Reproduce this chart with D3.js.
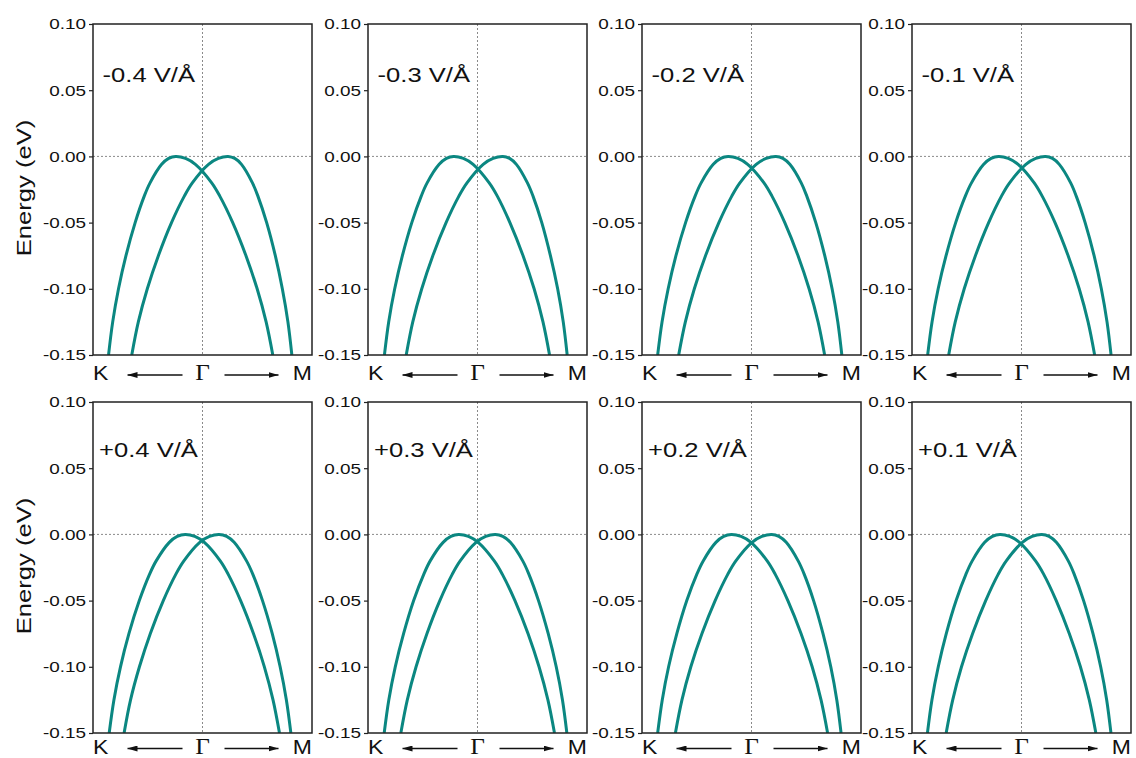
<!DOCTYPE html>
<html><head><meta charset="utf-8">
<script src="https://cdn.jsdelivr.net/npm/d3@7"></script>
<style>body{margin:0;background:#fff} svg{display:block}</style>
</head><body>
<svg id="chart" width="1136" height="758"></svg>
<script>
// ---- data ----
const fieldLabels = ["-0.4 V/Å","-0.3 V/Å","-0.2 V/Å","-0.1 V/Å","+0.4 V/Å","+0.3 V/Å","+0.2 V/Å","+0.1 V/Å"];
const energyTicks = [0.10, 0.05, 0.00, -0.05, -0.10, -0.15];
const pathLabels = ["K", "Γ", "M"];
const yLabel = "Energy (eV)";

// energy (eV) of every sample along a band, from the left end, over the maximum, to the right end
const bandEnergy = [-0.15,-0.125,-0.10,-0.075,-0.05,-0.03,-0.02,-0.006,-0.0015,0,-0.0015,-0.006,-0.02,-0.03,-0.05,-0.075,-0.10,-0.125,-0.15];

// k positions (K = -1, Γ = 0, M = +1) of those samples
const band1_m04 = [-0.858,-0.820,-0.767,-0.699,-0.615,-0.532,-0.479,-0.373,-0.309,-0.245,-0.155,-0.065,0.084,0.158,0.276,0.397,0.499,0.581,0.642];
const band2_m04 = [-0.646,-0.586,-0.504,-0.403,-0.283,-0.166,-0.093,0.055,0.145,0.234,0.295,0.356,0.456,0.506,0.586,0.665,0.729,0.780,0.816];
const band1_m03 = [-0.850,-0.811,-0.756,-0.686,-0.600,-0.514,-0.460,-0.350,-0.284,-0.218,-0.129,-0.040,0.107,0.181,0.296,0.416,0.517,0.598,0.658];
const band2_m03 = [-0.651,-0.591,-0.509,-0.408,-0.287,-0.170,-0.096,0.052,0.142,0.232,0.293,0.355,0.456,0.507,0.587,0.666,0.732,0.783,0.819];
const band1_m02 = [-0.857,-0.817,-0.761,-0.690,-0.602,-0.515,-0.460,-0.349,-0.281,-0.214,-0.124,-0.035,0.114,0.187,0.304,0.425,0.526,0.608,0.668];
const band2_m02 = [-0.665,-0.604,-0.522,-0.420,-0.298,-0.180,-0.106,0.043,0.134,0.224,0.287,0.350,0.454,0.505,0.587,0.669,0.736,0.788,0.825];
const band1_m01 = [-0.857,-0.817,-0.761,-0.689,-0.601,-0.513,-0.457,-0.345,-0.278,-0.210,-0.121,-0.031,0.116,0.189,0.306,0.426,0.527,0.608,0.668];
const band2_m01 = [-0.665,-0.605,-0.523,-0.421,-0.300,-0.183,-0.109,0.040,0.130,0.220,0.283,0.345,0.449,0.500,0.581,0.663,0.729,0.781,0.818];
const band1_p04 = [-0.852,-0.809,-0.749,-0.672,-0.577,-0.483,-0.423,-0.303,-0.231,-0.158,-0.070,0.017,0.162,0.234,0.348,0.466,0.565,0.644,0.703];
const band2_p04 = [-0.716,-0.657,-0.576,-0.477,-0.358,-0.243,-0.170,-0.025,0.064,0.152,0.221,0.289,0.402,0.459,0.548,0.637,0.709,0.766,0.807];
const band1_p03 = [-0.852,-0.810,-0.751,-0.675,-0.583,-0.490,-0.432,-0.314,-0.243,-0.172,-0.083,0.006,0.153,0.226,0.342,0.462,0.562,0.643,0.703];
const band2_p03 = [-0.700,-0.641,-0.561,-0.462,-0.344,-0.230,-0.158,-0.013,0.075,0.163,0.231,0.300,0.413,0.469,0.557,0.646,0.719,0.776,0.816];
const band1_p02 = [-0.857,-0.815,-0.757,-0.682,-0.591,-0.499,-0.441,-0.325,-0.254,-0.184,-0.095,-0.005,0.143,0.216,0.332,0.453,0.554,0.635,0.695];
const band2_p02 = [-0.695,-0.635,-0.554,-0.453,-0.332,-0.216,-0.143,0.005,0.095,0.184,0.250,0.317,0.426,0.481,0.567,0.653,0.724,0.779,0.818];
const band1_p01 = [-0.859,-0.818,-0.760,-0.687,-0.597,-0.507,-0.450,-0.336,-0.266,-0.197,-0.108,-0.019,0.128,0.202,0.317,0.437,0.538,0.619,0.679];
const band2_p01 = [-0.688,-0.628,-0.548,-0.447,-0.327,-0.212,-0.139,0.008,0.097,0.186,0.252,0.318,0.427,0.481,0.567,0.653,0.723,0.778,0.817];

const band1Sets = [band1_m04, band1_m03, band1_m02, band1_m01, band1_p04, band1_p03, band1_p02, band1_p01];
const band2Sets = [band2_m04, band2_m03, band2_m02, band2_m01, band2_p04, band2_p03, band2_p02, band2_p01];

// ---- layout ----
const panelLefts = [93, 368, 642, 912];
const rowTops = [24, 402];
const panelW = 219, panelH = 331;
const SX = 1.22; // horizontal glyph stretch of the original font
const lineColor = "#0b8781";

const svg = d3.select("#chart");
svg.append("rect").attr("width",1136).attr("height",758).attr("fill","#fff");

const x = d3.scaleLinear().domain([-1, 1]).range([0, panelW]);
const y = d3.scaleLinear().domain([-0.15, 0.10]).range([panelH, 0]);
const fmt = d3.formatLocale({decimal:".", thousands:",", grouping:[3], currency:["",""], minus:"-"}).format(".2f");
const line = d3.line().x(d => x(d[0])).y(d => y(d[1])).curve(d3.curveCatmullRom.alpha(0.5));

const defs = svg.append("defs");
defs.append("clipPath").attr("id","clip").append("rect").attr("width",panelW).attr("height",panelH);
defs.append("marker").attr("id","ah").attr("viewBox","0 0 10 6").attr("refX",10).attr("refY",3)
  .attr("markerWidth",10).attr("markerHeight",6).attr("markerUnits","userSpaceOnUse").attr("orient","auto")
  .append("path").attr("d","M0,0 L10,3 L0,6 Z").attr("fill","#111");

fieldLabels.forEach((lab, i) => {
  const row = Math.floor(i / 4), col = i % 4;
  const g = svg.append("g").attr("transform", `translate(${panelLefts[col]},${rowTops[row]})`);

  // reference dotted lines
  g.append("line").attr("x1", x(0)).attr("x2", x(0)).attr("y1", 0).attr("y2", panelH)
    .attr("stroke","#8a8a8a").attr("stroke-width",1).attr("stroke-dasharray","2,2");
  g.append("line").attr("x1", 0).attr("x2", panelW).attr("y1", y(0)).attr("y2", y(0))
    .attr("stroke","#8a8a8a").attr("stroke-width",1).attr("stroke-dasharray","2,2");

  // bands
  const cg = g.append("g").attr("clip-path","url(#clip)");
  [band1Sets[i], band2Sets[i]].forEach(ks => {
    cg.append("path").attr("d", line(d3.zip(ks, bandEnergy))).attr("fill","none")
      .attr("stroke", lineColor).attr("stroke-width", 3);
  });

  // axis
  const ax = g.append("g").call(d3.axisLeft(y).tickValues(energyTicks).tickFormat(fmt).tickSize(4).tickPadding(3));
  ax.select(".domain").remove();
  ax.selectAll(".tick line").attr("stroke","#222").attr("stroke-width",1.2);
  ax.selectAll(".tick text").attr("font-family","'Liberation Sans', Arial, sans-serif")
    .attr("font-size",15.5).attr("fill","#111").attr("x", -7 / SX).attr("transform", `scale(${SX},1)`);

  // frame
  g.append("rect").attr("width", panelW).attr("height", panelH).attr("fill","none")
    .attr("stroke","#222").attr("stroke-width",1.5);

  // field label
  const lx = row === 0 ? 9.5 : 6, ly = row === 0 ? 58 : 54.5;
  g.append("text").attr("transform", `translate(${lx},${ly}) scale(${SX},1)`)
    .attr("font-family","'Liberation Sans', Arial, sans-serif").attr("font-size",21).attr("fill","#111").text(lab);

  // k-path labels
  const by = panelH + (row === 0 ? 25 : 20.5);
  g.append("text").attr("transform", `translate(0,${by}) scale(1.15,1)`)
    .attr("font-family","'Liberation Sans', Arial, sans-serif").attr("font-size",20).attr("fill","#111").text(pathLabels[0]);
  g.append("text").attr("transform", `translate(${x(0)},${by}) scale(1.1,1)`).attr("text-anchor","middle")
    .attr("font-family","'Liberation Serif', 'Times New Roman', serif").attr("font-size",23).attr("fill","#111").text(pathLabels[1]);
  g.append("text").attr("transform", `translate(${panelW},${by}) scale(1.15,1)`).attr("text-anchor","end")
    .attr("font-family","'Liberation Sans', Arial, sans-serif").attr("font-size",20).attr("fill","#111").text(pathLabels[2]);

  // arrows
  const ay = by - 5;
  g.append("line").attr("x1", x(0) - 20).attr("x2", x(0) - 75).attr("y1", ay).attr("y2", ay)
    .attr("stroke","#111").attr("stroke-width",1.5).attr("marker-end","url(#ah)");
  g.append("line").attr("x1", x(0) + 22).attr("x2", x(0) + 76).attr("y1", ay).attr("y2", ay)
    .attr("stroke","#111").attr("stroke-width",1.5).attr("marker-end","url(#ah)");

  // y label on first column
  if (col === 0) {
    svg.append("text").attr("transform", `translate(31,${rowTops[row] + 164}) rotate(-90) scale(${SX},1)`)
      .attr("text-anchor","middle").attr("font-family","'Liberation Sans', Arial, sans-serif")
      .attr("font-size",21).attr("fill","#111").text(yLabel);
  }
});
</script>
</body></html>
